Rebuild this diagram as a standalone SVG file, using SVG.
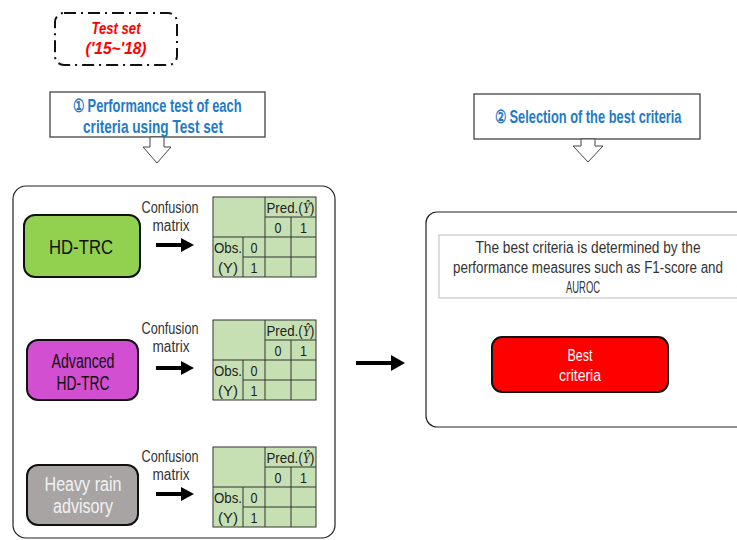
<svg xmlns="http://www.w3.org/2000/svg" xmlns:xlink="http://www.w3.org/1999/xlink" width="737" height="540" viewBox="0 0 737 540">
<style>
text{font-family:"Liberation Sans","Noto Sans",sans-serif;}
.title{fill:#1F7BC8;font-size:18px;font-weight:bold;}
.red{fill:#FF0000;font-size:17px;font-weight:bold;font-style:italic;}
.lbl{fill:#333;font-size:16px;text-anchor:middle;}
.node{stroke:#111;stroke-width:2;}
.ntxt{font-size:20px;text-anchor:middle;}
.mt{font-size:15px;fill:#222;text-anchor:middle;}
.ml{stroke:#333;stroke-width:1;fill:none;}
.blk{fill:#000;}
</style>
<defs>
<g id="matrix">
<rect x="0" y="0" width="103" height="80" fill="#C6E0B4" stroke="#333" stroke-width="1"/>
<path class="ml" d="M52 0V80M78 20V80M30 40V80M52 20H103M0 40H103M30 60H103"/>
<text class="mt" x="77.5" y="15.5" textLength="48" lengthAdjust="spacingAndGlyphs">Pred.(<tspan font-family="Liberation Serif,serif" font-style="italic">Ŷ</tspan>)</text>
<text class="mt" x="65" y="35.5" textLength="7" lengthAdjust="spacingAndGlyphs">0</text>
<text class="mt" x="90.5" y="35.5" textLength="7" lengthAdjust="spacingAndGlyphs">1</text>
<text class="mt" x="15" y="55.5" textLength="28" lengthAdjust="spacingAndGlyphs">Obs.</text>
<text class="mt" x="15" y="75.5" textLength="20" lengthAdjust="spacingAndGlyphs">(Y)</text>
<text class="mt" x="41" y="55.5" textLength="7" lengthAdjust="spacingAndGlyphs">0</text>
<text class="mt" x="41" y="75.5" textLength="7" lengthAdjust="spacingAndGlyphs">1</text>
</g>
</defs>
<rect width="737" height="540" fill="#fff"/>

<g id="testset">
<rect x="55" y="13" width="122" height="52" rx="9" fill="#fff" stroke="#111" stroke-width="2" stroke-dasharray="12,5,2,5"/>
<text class="red" x="116" y="34" text-anchor="middle" textLength="49" lengthAdjust="spacingAndGlyphs">Test set</text>
<text class="red" x="116" y="54" text-anchor="middle" textLength="61" lengthAdjust="spacingAndGlyphs">('15~'18)</text>
</g>

<g id="step1">
<rect x="50" y="92" width="215" height="45" fill="#fff" stroke="#333" stroke-width="1.2"/>
<text class="title" x="157" y="112" text-anchor="middle" textLength="169" lengthAdjust="spacingAndGlyphs">① Performance test of each</text>
<text class="title" x="153" y="133" text-anchor="middle" textLength="140" lengthAdjust="spacingAndGlyphs">criteria using Test set</text>
<polygon points="150,137 164,137 164,147 171,147 157,163 143,147 150,147" fill="#fff" stroke="#444" stroke-width="1"/>
</g>

<g id="step2">
<rect x="474" y="94" width="226" height="45" fill="#fff" stroke="#333" stroke-width="1.2"/>
<text class="title" x="588" y="123" text-anchor="middle" textLength="187" lengthAdjust="spacingAndGlyphs">② Selection of the best criteria</text>
<polygon points="581,139 595,139 595,146 603,146 588,162 573,146 581,146" fill="#fff" stroke="#444" stroke-width="1"/>
</g>

<g id="leftpanel">
<rect x="13" y="186" width="322" height="352" rx="13" fill="none" stroke="#222" stroke-width="1.2"/>
</g>

<g id="hdtrc">
<rect class="node" x="24" y="215" width="116" height="62" rx="11" fill="#92D050"/>
<text class="ntxt" x="81" y="254" font-size="22" fill="#111" textLength="64" lengthAdjust="spacingAndGlyphs">HD-TRC</text>
</g>
<g id="advanced">
<rect class="node" x="27" y="340" width="111" height="60" rx="11" fill="#D24FD2"/>
<text class="ntxt" x="83" y="368" fill="#111" textLength="63" lengthAdjust="spacingAndGlyphs">Advanced</text>
<text class="ntxt" x="83" y="390" fill="#111" textLength="53" lengthAdjust="spacingAndGlyphs">HD-TRC</text>
</g>
<g id="heavyrain">
<rect class="node" x="27" y="465" width="111" height="60" rx="11" fill="#A8A4A3"/>
<text class="ntxt" x="83" y="491" fill="#F2F2F2" textLength="77" lengthAdjust="spacingAndGlyphs">Heavy rain</text>
<text class="ntxt" x="83" y="513" fill="#F2F2F2" textLength="60" lengthAdjust="spacingAndGlyphs">advisory</text>
</g>

<g id="matrix1"><use xlink:href="#matrix" href="#matrix" x="213" y="197"/></g>
<g id="matrix2"><use xlink:href="#matrix" href="#matrix" x="213" y="320"/></g>
<g id="matrix3"><use xlink:href="#matrix" href="#matrix" x="213" y="447"/></g>

<g id="rightpanel">
<rect x="426" y="212" width="330" height="215" rx="11" fill="none" stroke="#222" stroke-width="1.2"/>
<rect x="439" y="235" width="310" height="63" fill="#fff" stroke="#BBB" stroke-width="1"/>
<text class="lbl" x="588" y="253" textLength="225" lengthAdjust="spacingAndGlyphs">The best criteria is determined by the</text>
<text class="lbl" x="588" y="273" textLength="270" lengthAdjust="spacingAndGlyphs">performance measures such as F1-score and</text>
<text class="lbl" x="583" y="293" textLength="34" lengthAdjust="spacingAndGlyphs">AUROC</text>
</g>

<g id="best">
<rect class="node" x="492" y="337" width="176" height="55" rx="10" fill="#FF0000"/>
<text x="580" y="361" font-size="17" fill="#fff" text-anchor="middle" textLength="25" lengthAdjust="spacingAndGlyphs">Best</text>
<text x="580" y="381" font-size="17" fill="#fff" text-anchor="middle" textLength="42" lengthAdjust="spacingAndGlyphs">criteria</text>
</g>

<g id="connectors">
<text class="lbl" x="170" y="213" textLength="57" lengthAdjust="spacingAndGlyphs">Confusion</text>
<text class="lbl" x="171" y="231" textLength="37" lengthAdjust="spacingAndGlyphs">matrix</text>
<path class="blk" d="M156 243H181V238L194 245L181 252V247H156Z"/>
<text class="lbl" x="170" y="334" textLength="57" lengthAdjust="spacingAndGlyphs">Confusion</text>
<text class="lbl" x="171" y="352" textLength="37" lengthAdjust="spacingAndGlyphs">matrix</text>
<path class="blk" d="M156 366H181V361L194 368L181 375V370H156Z"/>
<text class="lbl" x="170" y="462" textLength="57" lengthAdjust="spacingAndGlyphs">Confusion</text>
<text class="lbl" x="171" y="480" textLength="37" lengthAdjust="spacingAndGlyphs">matrix</text>
<path class="blk" d="M156 492H181V487L194 494L181 501V496H156Z"/>
<path class="blk" d="M356 361H391V355L405 363L391 371V365H356Z"/>
</g>
</svg>
